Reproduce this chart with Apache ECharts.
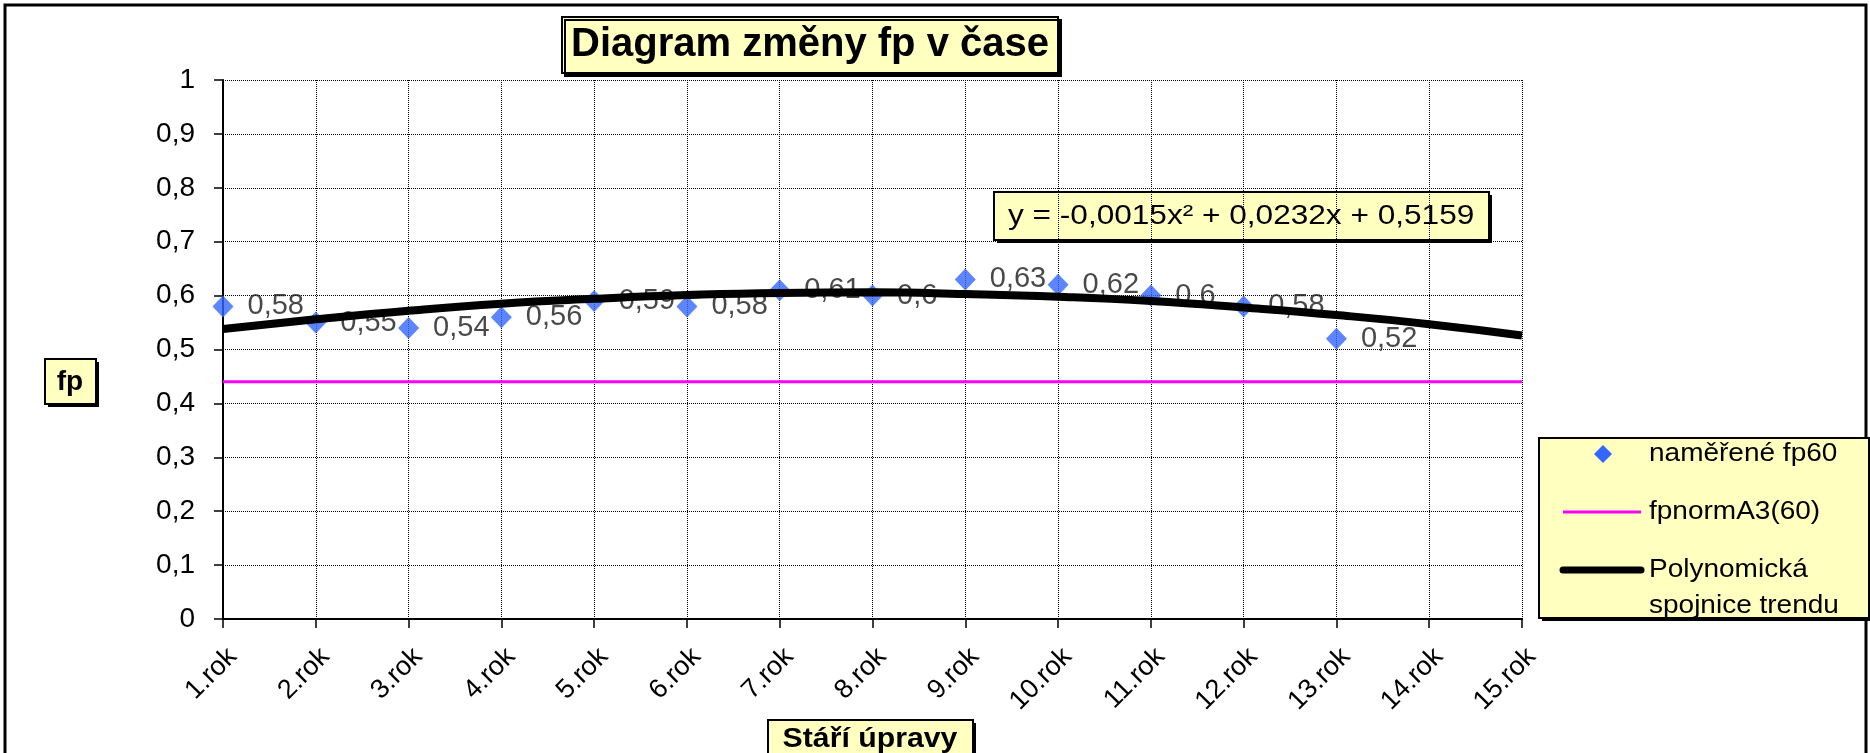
<!DOCTYPE html>
<html>
<head>
<meta charset="utf-8">
<script src="https://cdn.jsdelivr.net/npm/echarts@6/dist/echarts.min.js"></script>
<style>
html, body { margin: 0; padding: 0; background: #fff; }
#main { width: 1870px; height: 753px; }
</style>
</head>
<body>
<div id="main"></div>
<script>
// popisky osy x
var roky = ['1.rok', '2.rok', '3.rok', '4.rok', '5.rok', '6.rok', '7.rok', '8.rok',
  '9.rok', '10.rok', '11.rok', '12.rok', '13.rok', '14.rok', '15.rok'];
// namerene hodnoty fp60 (1. az 13. rok)
var namereneFp = [0.58, 0.55, 0.54, 0.56, 0.59, 0.58, 0.61, 0.6, 0.63, 0.62, 0.6, 0.58, 0.52];
// normova hodnota fpnormA3(60)
var fpNorm = [0.44, 0.44, 0.44, 0.44, 0.44, 0.44, 0.44, 0.44, 0.44, 0.44, 0.44, 0.44, 0.44, 0.44, 0.44];
// polynomicka spojnice trendu
var trend = [0.538, 0.556, 0.572, 0.585, 0.594, 0.601, 0.605, 0.606, 0.603, 0.598, 0.590, 0.578, 0.564, 0.547, 0.526];
var rovnice = 'y = -0,0015x² + 0,0232x + 0,5159';
var nazvyLegendy = ['naměřené fp60', 'fpnormA3(60)', 'Polynomická', 'spojnice trendu'];

var font = "'Liberation Sans', Arial, sans-serif";
var zlute = '#FFFFC0';
var modra = '#3366FF';
var ruzova = '#FF00FF';

function carka(v) {
  return String(v).replace('.', ',');
}

// zluty ramecek se stinem
function ramecek(w, h) {
  return [
    { type: 'rect', shape: { x: 3, y: 3, width: w, height: h }, style: { fill: '#000' } },
    { type: 'rect', shape: { x: 0, y: 0, width: w, height: h }, style: { fill: zlute, stroke: '#000', lineWidth: 2 } }
  ];
}

function popisek(text, x, y, size, bold, sx) {
  return {
    type: 'text', x: x, y: y, scaleX: sx || 1,
    style: {
      text: text,
      font: (bold ? 'bold ' : '') + size + 'px ' + font,
      fill: '#000',
      align: bold ? 'center' : 'left',
      verticalAlign: 'middle'
    }
  };
}

var myChart = echarts.init(document.getElementById('main'));

var option = {
  backgroundColor: '#fff',
  animation: false,
  textStyle: { fontFamily: font },
  title: {
    text: 'Diagram změny fp v čase',
    left: 562,
    top: 17,
    padding: [8, 9, 8, 9],
    backgroundColor: zlute,
    borderColor: '#000',
    borderWidth: 2,
    shadowColor: '#000',
    shadowOffsetX: 3,
    shadowOffsetY: 3,
    textStyle: { fontSize: 40, fontWeight: 'bold', color: '#000', fontFamily: font }
  },
  grid: {
    left: 223,
    right: 348,
    top: 80,
    bottom: 134
  },
  xAxis: {
    type: 'category',
    data: roky,
    boundaryGap: false,
    axisLine: { lineStyle: { color: '#000', width: 2 } },
    axisTick: { show: true, length: 9, lineStyle: { color: '#000', width: 1.5 } },
    axisLabel: {
      rotate: 45,
      fontSize: 27,
      color: '#000',
      margin: 24,
      interval: 0,
      verticalAlign: 'top'
    },
    splitLine: { show: true, lineStyle: { color: '#000', type: 'dotted', width: 1 } }
  },
  yAxis: {
    type: 'value',
    min: 0,
    max: 1,
    interval: 0.1,
    axisLine: { show: true, lineStyle: { color: '#000', width: 2 } },
    axisTick: { show: true, length: 9, lineStyle: { color: '#000', width: 1.5 } },
    axisLabel: {
      fontSize: 28,
      color: '#000',
      margin: 28,
      formatter: function (v) { return carka(Math.round(v * 10) / 10); }
    },
    splitLine: { show: true, lineStyle: { color: '#000', type: 'dotted', width: 1 } }
  },
  series: [
    {
      name: 'naměřené fp60',
      type: 'scatter',
      data: namereneFp,
      symbol: 'diamond',
      symbolSize: [21, 22],
      itemStyle: { color: modra },
      z: 3,
      label: {
        show: true,
        position: 'right',
        distance: 14,
        fontSize: 29,
        color: '#1a1a1a',
        fontFamily: font,
        formatter: function (p) { return carka(p.value); }
      }
    },
    {
      name: 'fpnormA3(60)',
      type: 'line',
      data: fpNorm,
      symbol: 'none',
      lineStyle: { color: ruzova, width: 3 },
      itemStyle: { color: ruzova },
      z: 2
    },
    {
      name: 'Polynomická spojnice trendu',
      type: 'line',
      data: trend,
      smooth: true,
      symbol: 'none',
      lineStyle: { color: '#000', width: 8 },
      itemStyle: { color: '#000' },
      z: 10
    }
  ],
  graphic: [
    {
      type: 'rect',
      shape: { x: 5, y: 5, width: 1861, height: 760 },
      style: { fill: 'none', stroke: '#000', lineWidth: 3 },
      silent: true
    },
    // rovnice trendu
    {
      type: 'group',
      left: 993,
      top: 191,
      children: ramecek(495, 48).concat([
        popisek(rovnice, 14, 25, 27, false, 1.17)
      ])
    },
    // popis osy y
    {
      type: 'group',
      left: 44,
      top: 358,
      children: ramecek(51, 45).concat([
        popisek('fp', 25, 23, 28, true)
      ])
    },
    // popis osy x
    {
      type: 'group',
      left: 767,
      top: 719,
      children: ramecek(205, 46).concat([
        popisek('Stáří úpravy', 102, 19, 28, true, 1.08)
      ])
    },
    // legenda
    {
      type: 'group',
      left: 1538,
      top: 437,
      children: ramecek(330, 180).concat([
        { type: 'polygon', shape: { points: [[64, 7], [73, 16], [64, 25], [55, 16]] }, style: { fill: modra } },
        popisek(nazvyLegendy[0], 110, 16, 25, false, 1.12),
        { type: 'line', shape: { x1: 24, y1: 74, x2: 102, y2: 74 }, style: { stroke: ruzova, lineWidth: 3 } },
        popisek(nazvyLegendy[1], 110, 74, 25, false, 1.12),
        { type: 'line', shape: { x1: 24, y1: 132, x2: 102, y2: 132 }, style: { stroke: '#000', lineWidth: 7, lineCap: 'round' } },
        popisek(nazvyLegendy[2], 110, 132, 25, false, 1.12),
        popisek(nazvyLegendy[3], 110, 168, 25, false, 1.12)
      ])
    }
  ]
};

myChart.setOption(option);
window.onresize = function () {
  myChart.resize();
};
</script>
</body>
</html>
